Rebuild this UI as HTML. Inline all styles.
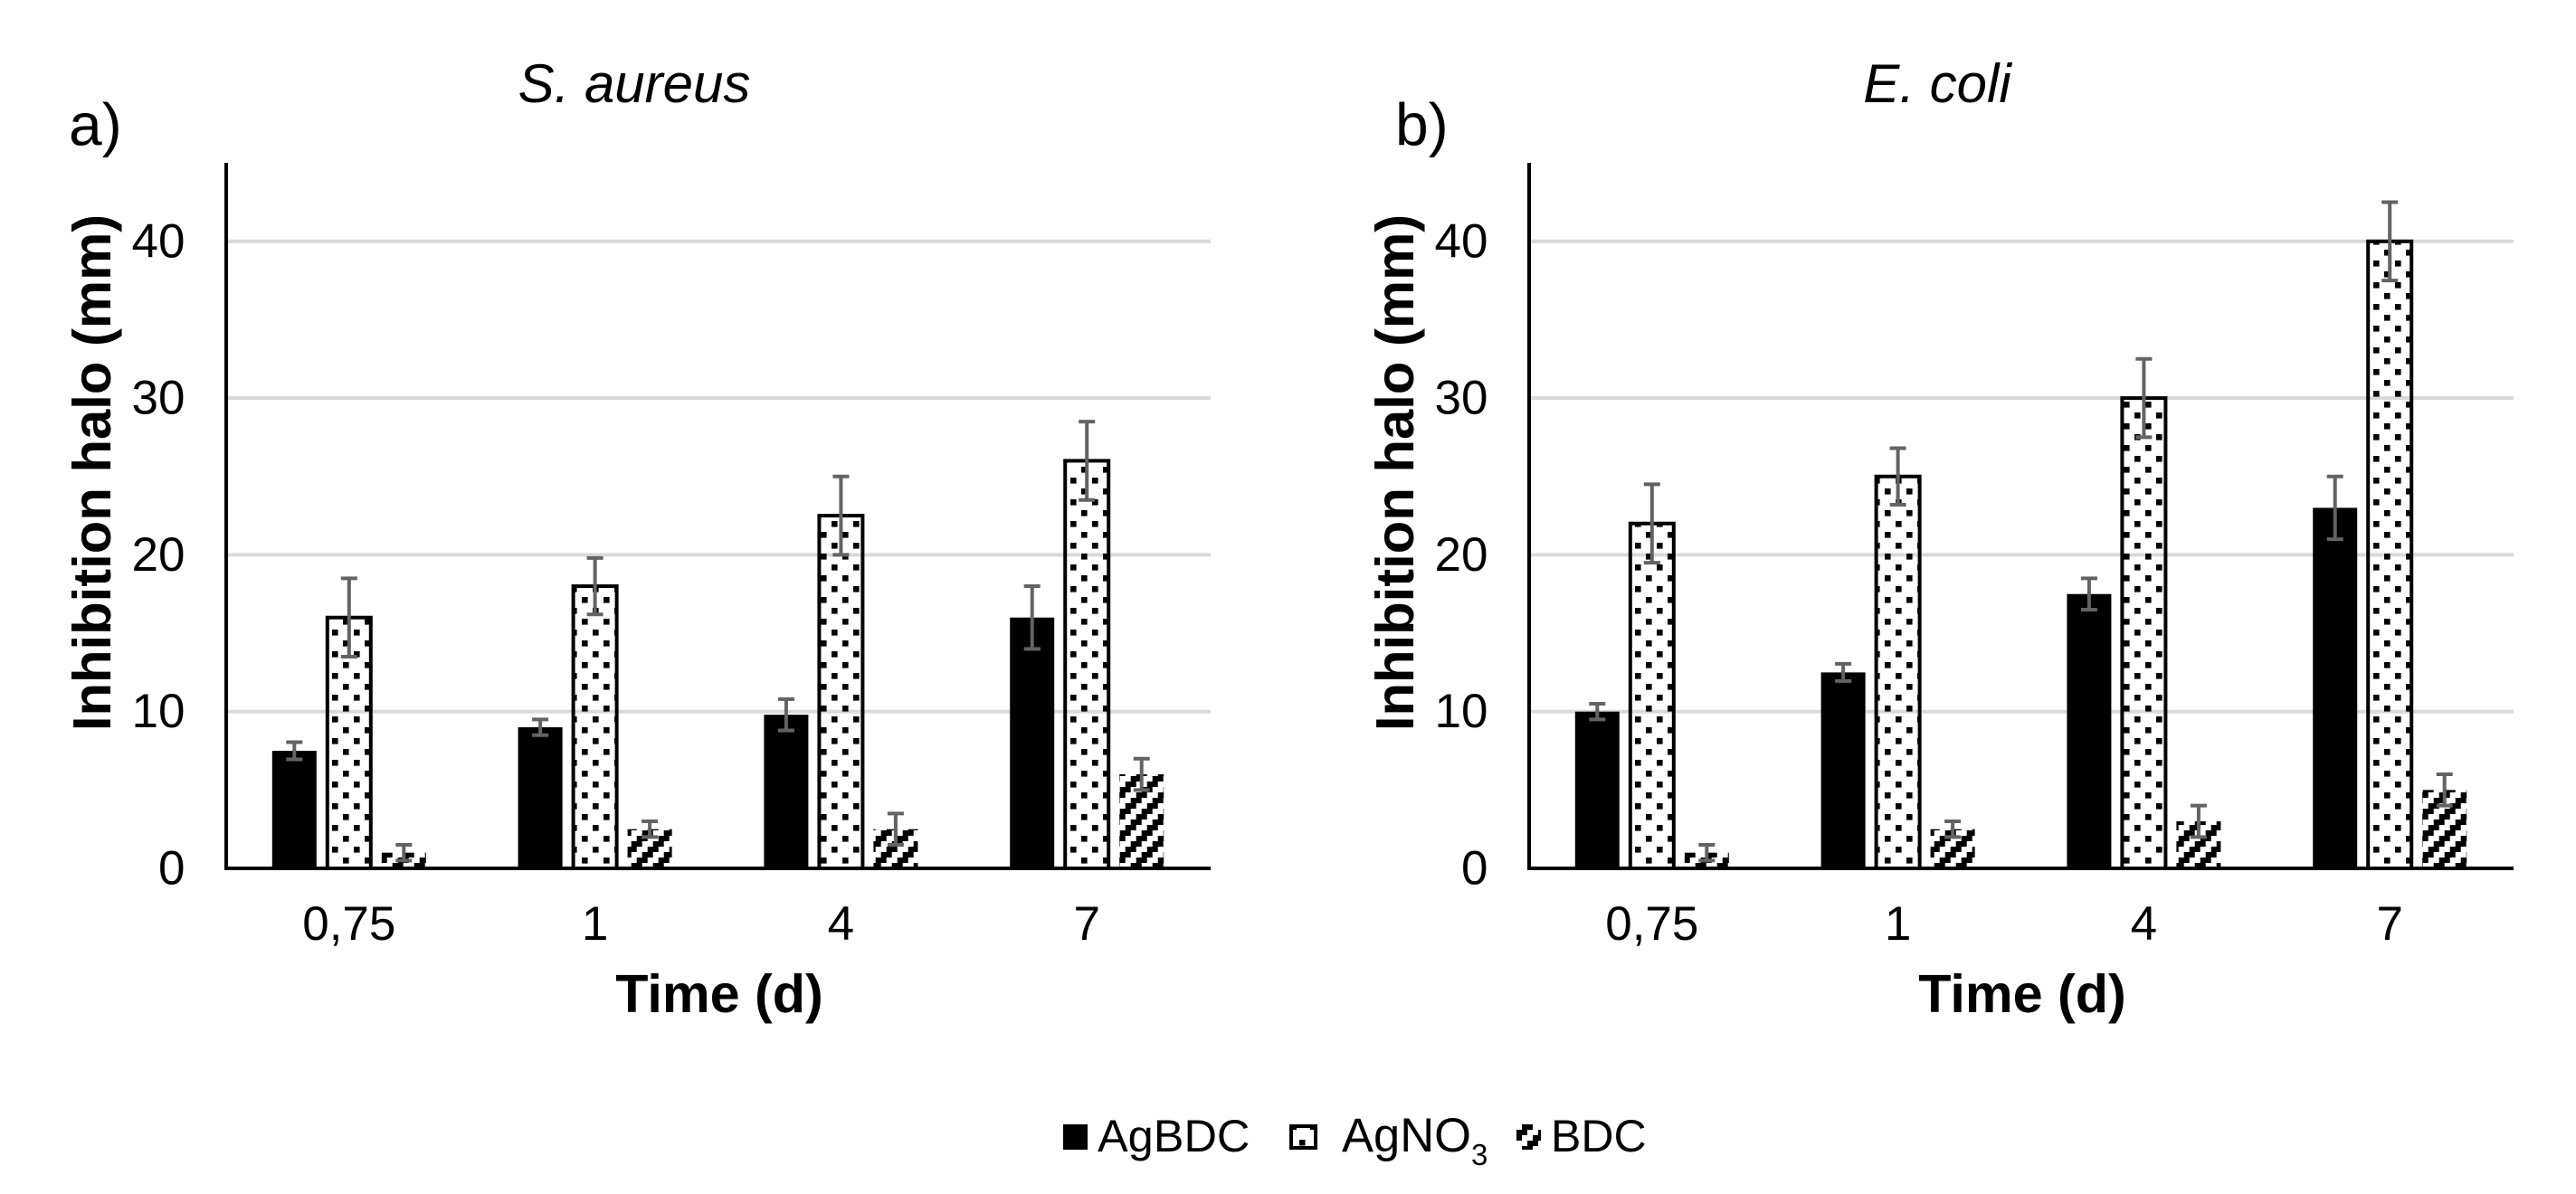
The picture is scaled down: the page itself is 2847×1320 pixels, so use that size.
<!DOCTYPE html>
<html lang="en">
<head>
<meta charset="utf-8">
<title>Inhibition halo charts</title>
<style>
html,body{margin:0;padding:0;background:#fff;width:2847px;height:1320px;overflow:hidden}
svg{display:block}
text{font-family:"Liberation Sans",Arial,sans-serif;fill:#000}
</style>
</head>
<body>
<svg id="figure" xmlns="http://www.w3.org/2000/svg" width="2847" height="1320" viewBox="0 0 2847 1320">
  <defs>
    <pattern id="dots" patternUnits="userSpaceOnUse" width="24" height="24" patternTransform="translate(1183 816)">
      <rect x="0" y="0" width="6.6" height="6.6" fill="#000"/>
      <rect x="12" y="12" width="6.6" height="6.6" fill="#000"/>
    </pattern>
    <pattern id="stripes" patternUnits="userSpaceOnUse" width="24" height="24" patternTransform="translate(1237.7 870)">
      <path d="M0 0h12v6H0z M18 6h6v6h-6z M0 6h6v6H0z M12 12h12v6H12z M6 18h12v6H6z" fill="#000"/>
    </pattern>
    <pattern id="legend-stripes" patternUnits="userSpaceOnUse" width="24" height="24" patternTransform="translate(1676 1225)">
      <path d="M0 0h12v6H0z M18 6h6v6h-6z M0 6h6v6H0z M12 12h12v6H12z M6 18h12v6H6z" fill="#000"/>
    </pattern>
  </defs>
  <rect width="2847" height="1320" fill="#fff"/>
  <g id="panel-a"></g>
  <g id="panel-b"></g>
  <g id="legend">
    <g>
      <rect x="1175" y="1243" width="27" height="28" fill="#000"/>
      <text x="1213" y="1273" font-size="50.5">AgBDC</text>
    </g>
    <g>
      <rect x="1427" y="1245" width="27" height="24" fill="#fff" stroke="#000" stroke-width="4"/>
      <rect x="1436" y="1260" width="6.5" height="6.5" fill="#000"/>
      <rect x="1428" y="1246" width="5" height="3" fill="#000"/>
      <rect x="1448" y="1246" width="5" height="3" fill="#000"/>
      <text x="1483" y="1273" font-size="52.5">AgNO<tspan font-size="33" dy="15">3</tspan></text>
    </g>
    <g>
      <rect x="1676" y="1243" width="27" height="28" fill="url(#legend-stripes)"/>
      <text x="1714" y="1273" font-size="50">BDC</text>
    </g>
  </g>
</svg>
<script>
const categories = ['0,75', '1', '4', '7'];
const yTicks = [0, 10, 20, 30, 40];

const aAgBDC = [7.5, 9, 9.8, 16];
const aAgBDCErr = [0.55, 0.5, 1, 2];
const aAgNO3 = [16, 18, 22.5, 26];
const aAgNO3Err = [2.5, 1.8, 2.5, 2.5];
const aBDC = [1, 2.5, 2.5, 6];
const aBDCErr = [0.5, 0.5, 1, 1];

const bAgBDC = [10, 12.5, 17.5, 23];
const bAgBDCErr = [0.5, 0.55, 1, 2];
const bAgNO3 = [22, 25, 30, 40];
const bAgNO3Err = [2.5, 1.8, 2.5, 2.5];
const bBDC = [1, 2.5, 3, 5];
const bBDCErr = [0.5, 0.5, 1, 1];

const NS = 'http://www.w3.org/2000/svg';
const Y_ZERO = 960;
const PX_PER_UNIT = 17.33;
const yScale = v => Y_ZERO - v * PX_PER_UNIT;
const xBand = (axisX, i) => axisX + 135.8 + i * 271.8;

function make(tag, attrs) {
  const node = document.createElementNS(NS, tag);
  for (const k in attrs) node.setAttribute(k, attrs[k]);
  return node;
}

function drawPanel(rootId, prefix, axisX, letter, letterX, title, titleX, seriesList) {
  const root = document.getElementById(rootId);
  const right = axisX + 1088;

  yTicks.filter(t => t > 0).forEach(t => {
    const grid = make('rect', {x: axisX, y: yScale(t) - 2, width: right - axisX, height: 4, fill: '#d9d9d9'});
    
    
    root.appendChild(grid);
  });

  seriesList.forEach((s, si) => {
    s.values.forEach((v, i) => {
      const cx = xBand(axisX, i) + (si - 1) * 60.5;
      const top = yScale(v);
      let bar;
      if (s.outlined) {
        bar = make('rect', {x: cx - 24, y: top, width: 48, height: Y_ZERO - top, fill: s.fill, stroke: '#000', 'stroke-width': 4});
      } else {
        bar = make('rect', {x: cx - 24.5, y: top, width: 49, height: Y_ZERO - top, fill: s.fill});
      }
      
      
      root.appendChild(bar);
    });
  });

  seriesList.forEach((s, si) => {
    s.values.forEach((v, i) => {
      const cx = xBand(axisX, i) + (si - 1) * 60.5;
      const hi = yScale(v + s.errors[i]);
      const lo = yScale(v - s.errors[i]);
      const err = make('path', {
        d: 'M' + (cx - 9) + ' ' + hi + 'H' + (cx + 9) + 'M' + cx + ' ' + hi + 'V' + lo + 'M' + (cx - 9) + ' ' + lo + 'H' + (cx + 9),
        fill: 'none', stroke: '#636363', 'stroke-width': 4
      });
      
      
      root.appendChild(err);
    });
  });

  const yAxis = make('rect', {x: axisX - 2, y: 180, width: 4, height: 782, fill: '#000'});
  
  
  root.appendChild(yAxis);

  const xAxis = make('rect', {x: axisX - 2, y: 958, width: right - axisX + 2, height: 4, fill: '#000'});
  
  
  root.appendChild(xAxis);

  yTicks.forEach(t => {
    const label = make('text', {x: axisX - 45.5, y: yScale(t) + 17.5, 'font-size': 53, 'text-anchor': 'end'});
    label.textContent = String(t);
    
    
    root.appendChild(label);
  });

  categories.forEach((c, i) => {
    const label = make('text', {x: xBand(axisX, i), y: 1039, 'font-size': 53, 'text-anchor': 'middle'});
    label.textContent = c;
    
    
    root.appendChild(label);
  });

  const xTitle = make('text', {x: axisX + 545, y: 1119, 'font-size': 59.3, 'font-weight': 'bold', 'text-anchor': 'middle'});
  xTitle.textContent = 'Time (d)';
  
  
  root.appendChild(xTitle);

  const yTitle = make('text', {transform: 'translate(' + (axisX - 128) + ' 522.5) rotate(-90)', 'font-size': 59.8, 'font-weight': 'bold', 'text-anchor': 'middle'});
  yTitle.textContent = 'Inhibition halo (mm)';
  
  
  root.appendChild(yTitle);

  const chartTitle = make('text', {x: titleX, y: 113, 'font-size': 60, 'font-style': 'italic', 'text-anchor': 'middle'});
  chartTitle.textContent = title;
  
  
  root.appendChild(chartTitle);

  const panelLetter = make('text', {x: letterX, y: 160.5, 'font-size': 66});
  panelLetter.textContent = letter;
  
  
  root.appendChild(panelLetter);
}

drawPanel('panel-a', 'a', 250, 'a)', 76, 'S. aureus', 701, [
  {key: 'agbdc', values: aAgBDC, errors: aAgBDCErr, fill: '#000', outlined: false},
  {key: 'agno3', values: aAgNO3, errors: aAgNO3Err, fill: 'url(#dots)', outlined: true},
  {key: 'bdc', values: aBDC, errors: aBDCErr, fill: 'url(#stripes)', outlined: false}
]);
drawPanel('panel-b', 'b', 1690, 'b)', 1542, 'E. coli', 2141, [
  {key: 'agbdc', values: bAgBDC, errors: bAgBDCErr, fill: '#000', outlined: false},
  {key: 'agno3', values: bAgNO3, errors: bAgNO3Err, fill: 'url(#dots)', outlined: true},
  {key: 'bdc', values: bBDC, errors: bBDCErr, fill: 'url(#stripes)', outlined: false}
]);
</script>
</body>
</html>
